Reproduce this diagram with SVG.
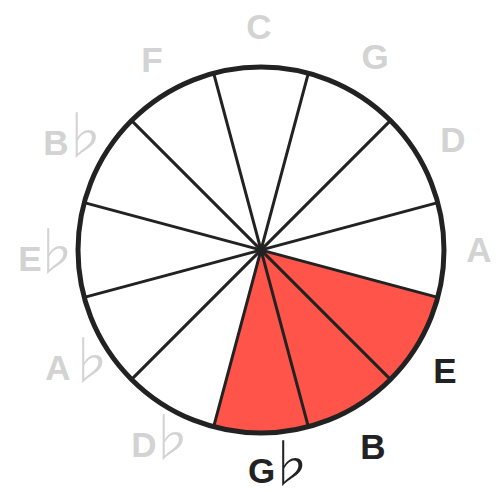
<svg xmlns="http://www.w3.org/2000/svg" width="500" height="492" viewBox="0 0 500 492">
<style>
.sec{fill:#ff5449;stroke:none}
.spoke{stroke:#222;stroke-width:3;stroke-linecap:round}
.rim{fill:none;stroke:#222;stroke-width:5}
.lbl{font-family:"Liberation Sans",Arial,sans-serif;font-weight:700;font-size:35px;text-anchor:middle}
.off{fill:#d3d3d3}
.on{fill:#222}
.flat{font-family:"Noto Sans CJK JP",sans-serif;font-weight:200;font-size:52px}
</style>
<rect width="500" height="492" fill="#fff"/>
<g id="sectors">
<path class="sec" d="M261 250 L437.77 297.36 A183 183 0 0 1 390.40 379.40 Z"/>
<path class="sec" d="M261 250 L390.40 379.40 A183 183 0 0 1 308.36 426.77 Z"/>
<path class="sec" d="M261 250 L308.36 426.77 A183 183 0 0 1 213.64 426.77 Z"/>
</g>
<g id="connectors">
<line class="spoke" x1="308.36" y1="73.23" x2="213.64" y2="426.77"/>
<line class="spoke" x1="390.40" y1="120.60" x2="131.60" y2="379.40"/>
<line class="spoke" x1="437.77" y1="202.64" x2="84.23" y2="297.36"/>
<line class="spoke" x1="437.77" y1="297.36" x2="84.23" y2="202.64"/>
<line class="spoke" x1="390.40" y1="379.40" x2="131.60" y2="120.60"/>
<line class="spoke" x1="308.36" y1="426.77" x2="213.64" y2="73.23"/>
<circle class="rim" cx="261" cy="250" r="183"/>
</g>
<g id="labels">
<text id="C" class="lbl off" x="259" y="39">C</text>
<text id="G" class="lbl off" x="375" y="69">G</text>
<text id="D" class="lbl off" x="453" y="152">D</text>
<text id="A" class="lbl off" x="479" y="262">A</text>
<text id="E" class="lbl on" x="445" y="383">E</text>
<text id="B" class="lbl on" x="373" y="459">B</text>
<text id="Gb" class="lbl on" x="261.5" y="483">G<tspan class="flat" x="290">♭</tspan></text>
<text id="Db" class="lbl off" x="144" y="457">D<tspan class="flat" x="170.5">♭</tspan></text>
<text id="Ab" class="lbl off" x="58" y="380">A<tspan class="flat" x="90">♭</tspan></text>
<text id="Eb" class="lbl off" x="30" y="271">E<tspan class="flat" x="55">♭</tspan></text>
<text id="Bb" class="lbl off" x="56" y="155">B<tspan class="flat" x="83.5">♭</tspan></text>
<text id="F" class="lbl off" x="152" y="72">F</text>
</g>
</svg>
